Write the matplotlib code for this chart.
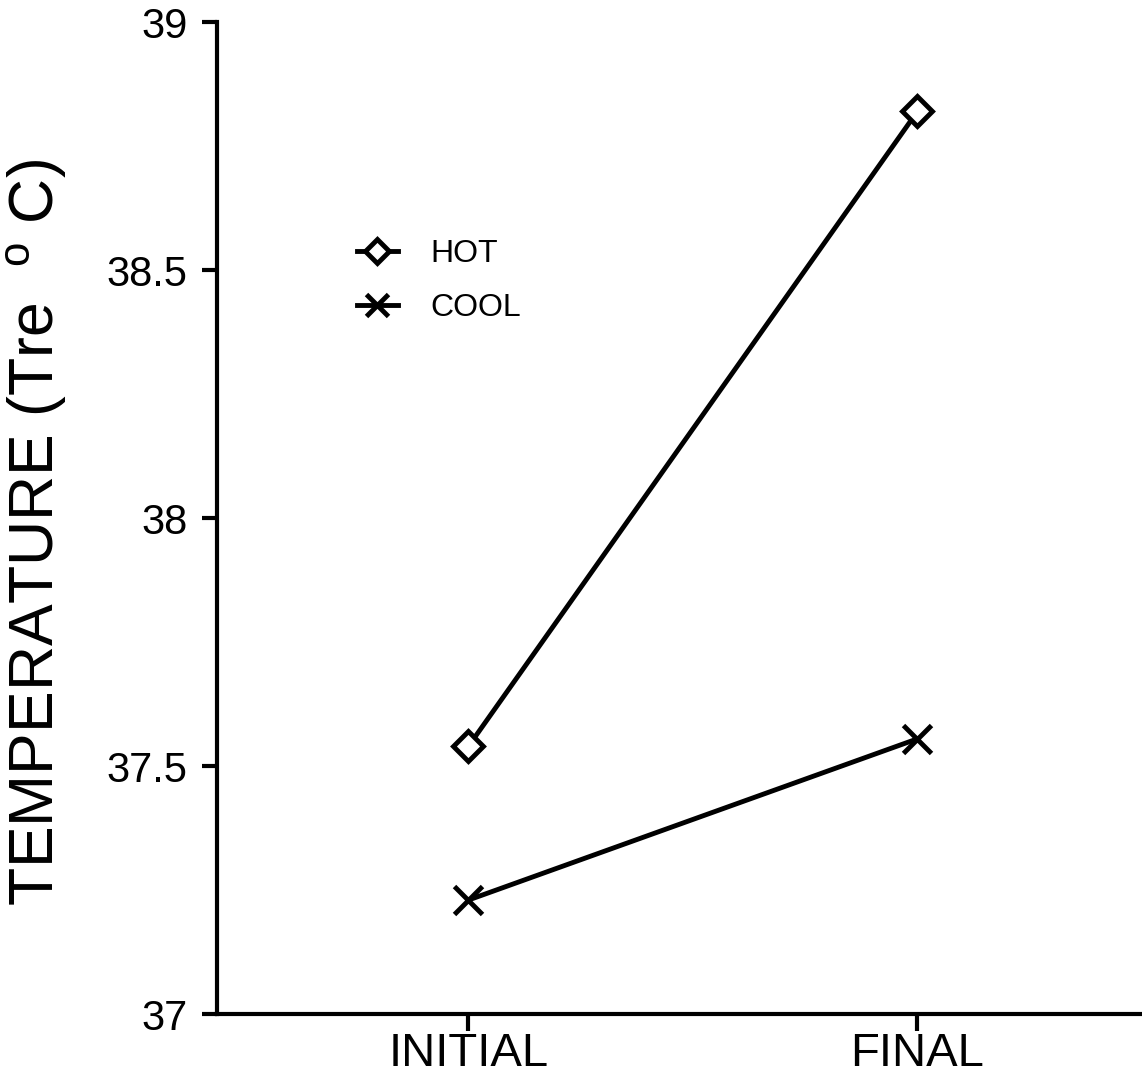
import numpy as np
import matplotlib.pyplot as plt

plt.rcParams['font.family'] = ['Liberation Sans', 'DejaVu Sans']
plt.rcParams['mathtext.fontset'] = 'custom'
plt.rcParams['mathtext.rm'] = 'Liberation Sans'

# data
phases = ['INITIAL', 'FINAL']
hot = [37.54, 38.82]
cool = [37.23, 37.555]
y_ticks = [37, 37.5, 38, 38.5, 39]
y_tick_labels = ['37', '37.5', '38', '38.5', '39']

xpos = np.arange(1, len(phases) + 1)

fig = plt.figure(figsize=(11.42, 10.8), dpi=100, facecolor='w')
ax = fig.add_axes([0.19, 0.061, 0.81, 0.9186])

ax.plot(xpos, hot, color='k', lw=3.5, marker='D', ms=15, mfc='w', mec='k', mew=3.5, label='HOT')
ax.plot(xpos, cool, color='k', lw=3.5, marker='x', ms=20, mew=3.5, label='COOL')

ax.set_xlim(0.44, 2.5)
ax.set_ylim(37, 39)
ax.set_xticks(xpos)
ax.set_xticklabels(phases, fontsize=34)
ax.set_yticks(y_ticks)
ax.set_yticklabels(y_tick_labels, fontsize=30)

for s in ['top', 'right']:
    ax.spines[s].set_visible(False)
for s in ['left', 'bottom']:
    ax.spines[s].set_linewidth(3)
ax.tick_params(axis='y', direction='out', length=11, width=3, pad=10)
ax.tick_params(axis='x', direction='out', length=12, width=3, pad=1)

ax.set_ylabel(r'TEMPERATURE (Tre  $^{\mathrm{o}}$ C)', fontsize=45)
ax.yaxis.set_label_coords(-0.16, 0.485)

ax.legend(loc='upper left', bbox_to_anchor=(0.12, 0.81), frameon=False, fontsize=23,
          handlelength=1.3, handletextpad=1.0, labelspacing=0.75, markerscale=0.8)

plt.savefig('out.png', dpi=100)
